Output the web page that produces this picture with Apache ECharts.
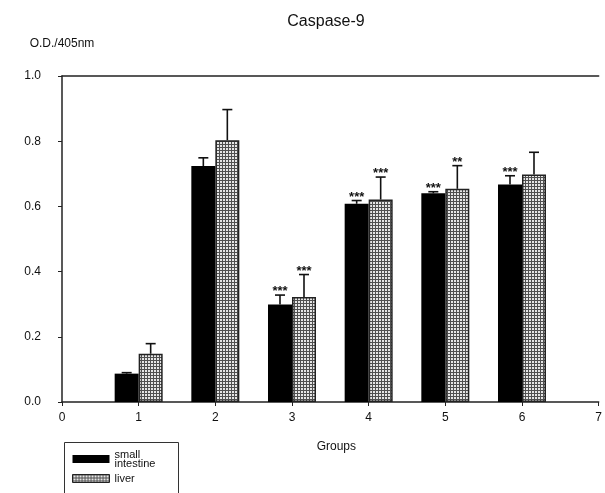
<!DOCTYPE html>
<html>
<head>
<meta charset="utf-8">
<script src="https://cdn.jsdelivr.net/npm/echarts@6/dist/echarts.min.js"></script>
<style>
  html, body { margin: 0; padding: 0; background: #fff; }
  #main { width: 605px; height: 493px; }
</style>
</head>
<body>
<div id="main"></div>
<script>
// axis categories (groups 0..7, bars only at 1..6)
var groups = ['0', '1', '2', '3', '4', '5', '6', '7'];
var seriesNames = ['small\nintestine', 'liver'];

// bar heights (O.D./405nm)
var intestine = ['-', 0.087, 0.724, 0.299, 0.608, 0.640, 0.667, '-'];
var liver     = ['-', 0.148, 0.803, 0.322, 0.621, 0.654, 0.698, '-'];

// top of the error bars
var intestineErr = ['-', 0.090, 0.749, 0.328, 0.618, 0.645, 0.694, '-'];
var liverErr     = ['-', 0.179, 0.897, 0.391, 0.690, 0.725, 0.766, '-'];

// significance marks
var intestineStars = ['', '', '', '***', '***', '***', '***', ''];
var liverStars     = ['', '', '', '***', '***', '**', '', ''];

var yTicks = [0, 0.2, 0.4, 0.6, 0.8, 1.0];

// crosshatch fill for the liver bars
function makePattern() {
  var c = document.createElement('canvas');
  c.width = 3; c.height = 3;
  var ctx = c.getContext('2d');
  ctx.fillStyle = '#505050';
  ctx.fillRect(0, 0, 3, 3);
  ctx.fillStyle = '#e6e6e6';
  ctx.fillRect(1, 1, 2, 2);
  return c;
}
var hatch = { image: makePattern(), repeat: 'repeat' };

var BAR_W = 24;

function errData(vals, errs) {
  var out = [];
  for (var i = 0; i < groups.length; i++) {
    if (vals[i] === '-') continue;
    out.push([i, vals[i], errs[i]]);
  }
  return out;
}

function errSeries(vals, errs, stars, shift) {
  return {
    type: 'custom',
    silent: true,
    z: 5,
    data: errData(vals, errs),
    encode: { x: 0, y: [1, 2] },
    renderItem: function (params, api) {
      var base = api.coord([api.value(0), api.value(1)]);
      var top = api.coord([api.value(0), api.value(2)]);
      var x = base[0] + shift;
      var star = stars[api.value(0)];
      var kids = [
        { type: 'line', shape: { x1: x, y1: base[1], x2: x, y2: top[1] },
          style: { stroke: '#111', lineWidth: 1.6 } },
        { type: 'line', shape: { x1: x - 5, y1: top[1], x2: x + 5, y2: top[1] },
          style: { stroke: '#111', lineWidth: 1.6 } }
      ];
      if (star) {
        kids.push({ type: 'text', x: x, y: top[1] + 3,
          style: { text: star, fill: '#111', font: 'bold 13px "Liberation Sans"',
                   align: 'center', verticalAlign: 'bottom' } });
      }
      return { type: 'group', children: kids };
    }
  };
}

var chart = echarts.init(document.getElementById('main'), null, { renderer: 'canvas' });

var option = {
  animation: false,
  textStyle: { fontFamily: '"Liberation Sans", Arial, sans-serif', color: '#111' },
  title: {
    text: 'Caspase-9',
    left: 321,
    top: 9,
    textAlign: 'center',
    textStyle: { fontSize: 16, fontWeight: 'normal', color: '#111' }
  },
  legend: {
    data: [
      { name: seriesNames[0], itemStyle: { color: '#000' } },
      { name: seriesNames[1], itemStyle: { color: hatch, borderColor: '#222', borderWidth: 1 } }
    ],
    orient: 'vertical',
    left: 62,
    top: 448,
    itemWidth: 37,
    itemHeight: 8,
    itemGap: 4,
    icon: 'rect',
    padding: [1, 4, 1, 10],
    textStyle: { fontSize: 11, lineHeight: 9, color: '#111' }
  },
  graphic: [{
    type: 'rect',
    left: 62,
    top: 440,
    shape: { width: 114, height: 70 },
    style: { fill: 'none', stroke: '#333', lineWidth: 1 },
    silent: true
  }],
  grid: { left: 62, right: -2, top: 76, bottom: 91 },
  xAxis: [{
    type: 'category',
    data: groups,
    boundaryGap: false,
    name: 'Groups',
    nameLocation: 'middle',
    nameGap: 39,
    nameTextStyle: { fontSize: 12, color: '#111', padding: [0, 0, 0, 12] },
    axisLine: { lineStyle: { color: '#222', width: 1.5 } },
    axisTick: { show: true, length: 4, alignWithLabel: true, lineStyle: { color: '#222' } },
    axisLabel: { fontSize: 12, color: '#111', margin: 10 },
    splitLine: { show: false }
  }, {
    type: 'category',
    data: groups,
    boundaryGap: false,
    position: 'top',
    axisLine: { lineStyle: { color: '#222', width: 1.5 } },
    axisTick: { show: false },
    axisLabel: { show: false }
  }],
  yAxis: {
    type: 'value',
    min: yTicks[0],
    max: yTicks[yTicks.length - 1],
    interval: 0.2,
    name: 'O.D./405nm',
    nameLocation: 'end',
    nameGap: 26,
    nameTextStyle: { fontSize: 12, color: '#111' },
    axisLine: { show: true, lineStyle: { color: '#222', width: 1.5 } },
    axisTick: { show: true, length: 4, lineStyle: { color: '#222' } },
    axisLabel: { fontSize: 12, color: '#111', margin: 21,
      formatter: function (v) { return v.toFixed(1); } },
    splitLine: { show: false }
  },
  series: [
    {
      name: seriesNames[0],
      type: 'bar',
      data: intestine,
      barWidth: BAR_W,
      barGap: '0%',
      itemStyle: { color: '#000' }
    },
    {
      name: seriesNames[1],
      type: 'bar',
      data: liver,
      barWidth: BAR_W,
      barGap: '0%',
      itemStyle: { color: hatch, borderColor: '#222', borderWidth: 1.5 }
    },
    errSeries(intestine, intestineErr, intestineStars, -BAR_W / 2),
    errSeries(liver, liverErr, liverStars, BAR_W / 2)
  ]
};

chart.setOption(option);
</script>
</body>
</html>
